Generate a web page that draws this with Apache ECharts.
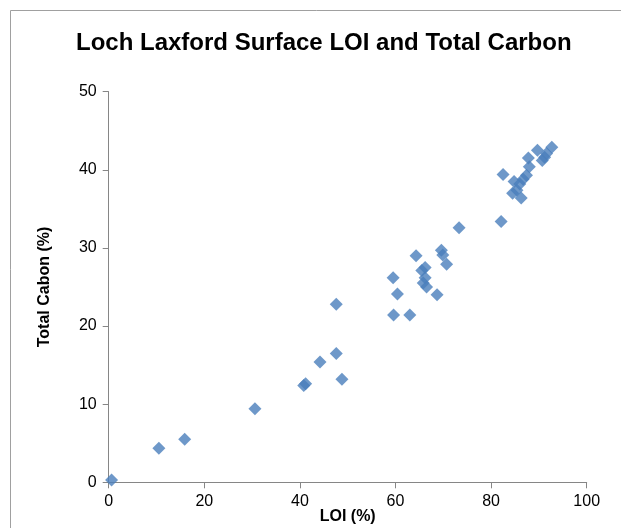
<!DOCTYPE html>
<html>
<head>
<meta charset="utf-8">
<script src="https://cdn.jsdelivr.net/npm/echarts@6/dist/echarts.min.js"></script>
<style>
html,body{margin:0;padding:0;background:#fff;}
#chart{width:621px;height:528px;}
</style>
</head>
<body>
<div id="chart"></div>
<script>
// LOI (%) values
const loi = [0.6, 10.5, 15.9, 30.6, 40.8, 41.2, 44.2, 47.6, 47.6, 48.8,
  59.6, 63.0, 60.4, 59.5, 64.3, 66.2, 65.5, 66.2, 65.8, 66.5, 68.7, 69.6, 69.9, 70.7, 73.3, 82.1,
  82.5, 84.8, 85.4, 84.5, 86.3, 86.7, 87.4, 88.0, 87.8, 89.7, 90.7, 91.2, 91.6, 92.7, 86.0];
// Total Carbon (%) values
const totalCarbon = [0.3, 4.35, 5.5, 9.4, 12.4, 12.6, 15.4, 22.8, 16.5, 13.2,
  21.4, 21.4, 24.1, 26.2, 29.0, 27.5, 27.1, 26.2, 25.5, 25.0, 24.0, 29.7, 29.1, 27.9, 32.6, 33.4,
  39.4, 38.5, 37.4, 37.0, 36.4, 38.8, 39.3, 40.4, 41.5, 42.5, 41.2, 41.6, 42.1, 42.9, 38.2];
const xTicks = [0, 20, 40, 60, 80, 100];
const yTicks = [0, 10, 20, 30, 40, 50];

const points = loi.map((v, i) => [v, totalCarbon[i]]);
const font = 'Liberation Sans';
const chart = echarts.init(document.getElementById('chart'));
chart.setOption({
  animation: false,
  backgroundColor: '#fff',
  title: {
    text: 'Loch Laxford Surface LOI and Total Carbon',
    left: 71,
    top: 26,
    textStyle: {fontFamily: font, fontSize: 24, fontWeight: 'bold', color: '#000'}
  },
  graphic: [{
    type: 'rect', silent: true,
    shape: {x: 10.5, y: 10.5, width: 700, height: 600},
    style: {fill: 'none', stroke: '#a0a0a0', lineWidth: 1}
  }],
  grid: {left: 108.7, right: 34.3, top: 91.7, bottom: 45.7, containLabel: false, outerBoundsMode: 'none'},
  xAxis: {
    type: 'value', min: xTicks[0], max: xTicks[xTicks.length - 1], interval: 20,
    name: 'LOI (%)', nameLocation: 'middle', nameGap: 26, nameMoveOverlap: false,
    nameTextStyle: {fontFamily: font, fontSize: 16, fontWeight: 'bold', color: '#000'},
    axisLine: {show: true, onZero: false, lineStyle: {color: '#868686', width: 1}},
    axisTick: {show: true, length: 6, lineStyle: {color: '#868686'}},
    axisLabel: {fontFamily: font, fontSize: 16, color: '#000', margin: 11},
    splitLine: {show: false}
  },
  yAxis: {
    type: 'value', min: yTicks[0], max: yTicks[yTicks.length - 1], interval: 10,
    name: 'Total Cabon (%)', nameLocation: 'middle', nameGap: 56, nameMoveOverlap: false,
    nameTextStyle: {fontFamily: font, fontSize: 16, fontWeight: 'bold', color: '#000'},
    axisLine: {show: true, onZero: false, lineStyle: {color: '#868686', width: 1}},
    axisTick: {show: true, length: 6, lineStyle: {color: '#868686'}},
    axisLabel: {fontFamily: font, fontSize: 16, color: '#000', margin: 12},
    splitLine: {show: false}
  },
  series: [{
    type: 'scatter',
    symbol: 'diamond',
    symbolSize: 13,
    itemStyle: {color: '#4a7ebb'},
    data: points
  }]
});
</script>
</body>
</html>
